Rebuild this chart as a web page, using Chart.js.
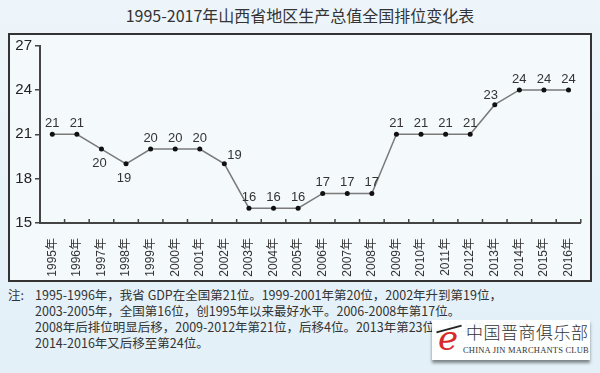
<!DOCTYPE html>
<html>
<head>
<meta charset="utf-8">
<script src="https://cdn.jsdelivr.net/npm/chart.js@4/dist/chart.umd.min.js"></script>
<style>
body { margin: 0; }
#page {
  position: relative; width: 600px; height: 373px; overflow: hidden;
  background: linear-gradient(#edf5fa, #e3f0f8);
  font-family: "Noto Sans CJK SC", "Liberation Sans", sans-serif;
  color: #333;
}
#title {
  position: absolute; left: 0; top: 4px; width: 600px; text-align: center;
  font-size: 16px; line-height: 22px; color: #333;
}
#frame {
  position: absolute; left: 8px; top: 33px; width: 580px; height: 245px;
  border: 2px solid #333; background: #f4f9fc;
}
#note {
  position: absolute; left: 8px; top: 287px; font-size: 12.5px; line-height: 16px; color: #333;
}
#note .lead { position: absolute; left: 0; top: 0; }
#note .body { margin-left: 27px; white-space: nowrap; }
#logo {
  position: absolute; left: 432px; top: 320px; width: 158px; height: 40px;
  background: rgba(255,255,255,0.95); box-shadow: 0 3px 3px rgba(0,0,0,0.45);
}
#logo .e {
  position: absolute; left: 6px; top: 0px; font-family: "DejaVu Serif", serif; font-style: italic;
  font-size: 34px; line-height: 36px; color: #d8282a;
}
#logo .bar { position: absolute; left: 4px; top: 8px; width: 26px; height: 2px; background: #222; transform: rotate(-15deg); }
#logo .cn {
  position: absolute; left: 34px; top: 2px; font-size: 17px; line-height: 20px; color: #333;
  font-weight: 300; letter-spacing: 0.5px;
}
#logo .en {
  position: absolute; left: 31px; top: 25px; font-family: "Liberation Serif", serif;
  font-size: 8.5px; line-height: 10px; color: #333; letter-spacing: 0.2px;
}
</style>
</head>
<body>
<div id="page">
  <div id="title">1995-2017年山西省地区生产总值全国排位变化表</div>
  <div id="frame"><canvas id="rankChart" width="580" height="245"></canvas></div>
  <div id="note">
    <span class="lead">注:</span>
    <div class="body">1995-1996年，我省 GDP在全国第21位。1999-2001年第20位，2002年升到第19位，</div>
    <div class="body">2003-2005年，全国第16位，创1995年以来最好水平。2006-2008年第17位。</div>
    <div class="body">2008年后排位明显后移，2009-2012年第21位，后移4位。2013年第23位，比上年后移2位。</div>
    <div class="body">2014-2016年又后移至第24位。</div>
  </div>
  <div id="logo">
    <div class="bar"></div>
    <div class="e">e</div>
    <div class="cn">中国晋商俱乐部</div>
    <div class="en">CHINA JIN MARCHANTS CLUB</div>
  </div>
</div>
<script>
// data
const years = ["1995年", "1996年", "1997年", "1998年", "1999年", "2000年", "2001年", "2002年",
  "2003年", "2004年", "2005年", "2006年", "2007年", "2008年", "2009年", "2010年",
  "2011年", "2012年", "2013年", "2014年", "2015年", "2016年"];
const ranks = [21, 21, 20, 19, 20, 20, 20, 19, 16, 16, 16, 17, 17, 17, 21, 21, 21, 21, 23, 24, 24, 24];
const yTicks = [15, 18, 21, 24, 27];

// where a value label sits if not above the point
const labelSide = { "1997年": "below", "1998年": "below", "2002年": "right", "2013年": "left" };

// value labels next to points
const valueLabels = {
  id: "valueLabels",
  afterDatasetsDraw(chart) {
    const ctx = chart.ctx;
    const meta = chart.getDatasetMeta(0);
    ctx.save();
    ctx.font = "13px 'Liberation Sans', Arial, sans-serif";
    ctx.fillStyle = "#333";
    meta.data.forEach((pt, i) => {
      const side = labelSide[years[i]];
      const txt = String(ranks[i]);
      if (side === "below") {
        ctx.textAlign = "center"; ctx.textBaseline = "top";
        ctx.fillText(txt, pt.x - 2, pt.y + 8);
      } else if (side === "right") {
        ctx.textAlign = "left"; ctx.textBaseline = "middle";
        ctx.fillText(txt, pt.x + 3, pt.y - 8);
      } else if (side === "left") {
        ctx.textAlign = "center"; ctx.textBaseline = "bottom";
        ctx.fillText(txt, pt.x - 4, pt.y - 3);
      } else {
        ctx.textAlign = "center"; ctx.textBaseline = "bottom";
        ctx.fillText(txt, pt.x, pt.y - 4);
      }
    });
    ctx.restore();
  }
};

// short ticks pointing up from the x axis, between categories
const innerTicks = {
  id: "innerTicks",
  afterDraw(chart) {
    const x = chart.scales.x;
    const ctx = chart.ctx;
    const half = (x.getPixelForValue(1) - x.getPixelForValue(0)) / 2;
    const base = chart.chartArea.bottom;
    ctx.save();
    ctx.strokeStyle = "#444";
    ctx.lineWidth = 1.5;
    for (let i = 0; i < years.length; i++) {
      const px = x.getPixelForValue(i) + half;
      ctx.beginPath();
      ctx.moveTo(px, base);
      ctx.lineTo(px, base - 4);
      ctx.stroke();
    }
    ctx.restore();
  }
};

new Chart(document.getElementById("rankChart"), {
  type: "line",
  data: {
    labels: years,
    datasets: [{
      data: ranks,
      borderColor: "#7a7a7a",
      borderWidth: 1.5,
      pointRadius: 2.5,
      pointBackgroundColor: "#111",
      pointBorderWidth: 0,
      tension: 0
    }]
  },
  options: {
    responsive: false,
    animation: false,
    layout: { padding: { top: 7, right: 0, left: 0, bottom: 0 } },
    plugins: { legend: { display: false }, tooltip: { enabled: false }, title: { display: false } },
    scales: {
      x: {
        offset: true,
        grid: { display: false },
        border: { display: true, color: "#444", width: 2 },
        ticks: {
          minRotation: 90, maxRotation: 90, autoSkip: false, padding: 7,
          color: "#333", font: { family: "'Liberation Sans', 'Noto Sans CJK SC', sans-serif", size: 12 }
        },
        afterFit(scale) { scale.height = 57; }
      },
      y: {
        min: yTicks[0], max: yTicks[yTicks.length - 1],
        afterBuildTicks(scale) { scale.ticks = yTicks.map(v => ({ value: v })); },
        grid: { drawOnChartArea: false, tickLength: 5, color: "#444", lineWidth: 1.5 },
        border: { display: true, color: "#444", width: 2 },
        ticks: {
          padding: 3, color: "#222",
          font: { family: "'Liberation Sans', Arial, sans-serif", size: 15, lineHeight: 1 }
        },
        afterFit(scale) { scale.width = 30; }
      }
    }
  },
  plugins: [valueLabels, innerTicks]
});
</script>
</body>
</html>
